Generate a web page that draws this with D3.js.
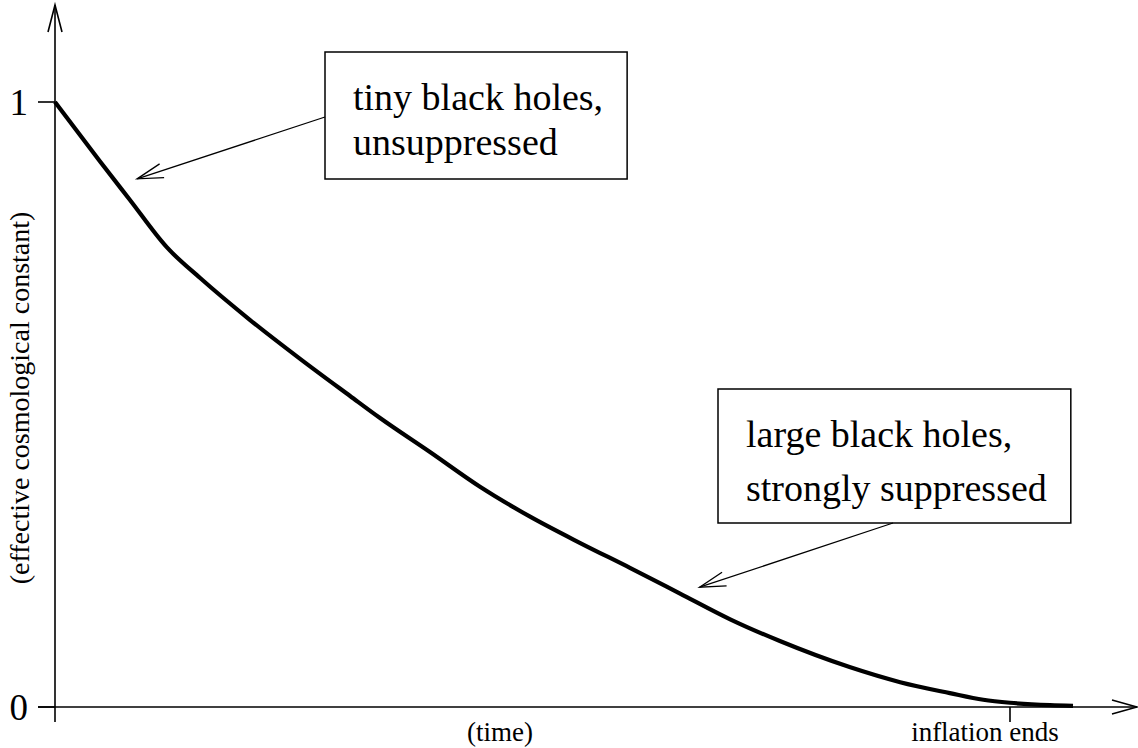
<!DOCTYPE html>
<meta charset="utf-8">
<style>

body {
  margin: 0;
  background: #fff;
}

text, tspan {
  font-family: "Liberation Serif", "Times New Roman", Times, "DejaVu Serif", serif;
  fill: #000;
}

.axis { stroke: #000; stroke-width: 1.6px; fill: none; }
.curve { stroke: #000; stroke-width: 4.2px; fill: none; }
.note rect { stroke: #000; stroke-width: 1.5px; fill: #fff; }
.pointer { stroke: #000; stroke-width: 1.3px; fill: none; }

</style>
<body>
<script src="https://d3js.org/d3.v7.min.js"></script>
<script>

// curve: time (0 = start, 1 = inflation ends) vs. effective cosmological constant
var time  = [0, 0.047, 0.0785, 0.117, 0.152, 0.204, 0.257, 0.309, 0.340, 0.393, 0.445, 0.497,
             0.550, 0.602, 0.654, 0.707, 0.759, 0.832, 0.885, 0.937, 0.972, 1.0, 1.042, 1.066];
var lambda = [1, 0.902, 0.838, 0.760, 0.709, 0.640, 0.575, 0.514, 0.478, 0.421, 0.364, 0.315,
              0.271, 0.230, 0.188, 0.145, 0.109, 0.066, 0.041, 0.023, 0.012, 0.007, 0.003, 0.002];

var yTicks = [0, 1];
var xTicks = [1];
var xTickLabels = ["inflation ends"];

var notes = [
  {lines: ["tiny black holes,", "unsuppressed"], t: 0.086, v: 0.873},
  {lines: ["large black holes,", "strongly suppressed"], t: 0.675, v: 0.198}
];

var width = 1138,
    height = 748;
var serif = "'Liberation Serif', 'Times New Roman', Times, 'DejaVu Serif', serif";

var x = d3.scaleLinear().domain([0, 1]).range([55, 1010]);
var y = d3.scaleLinear().domain([0, 1]).range([707, 102]);

var svg = d3.select("body").append("svg")
    .attr("width", width)
    .attr("height", height)
    .attr("font-family", serif);

// axes with open arrow heads
svg.append("path")
    .attr("class", "axis")
    .attr("d", "M" + x(0) + "," + 722 + "V5");
svg.append("path")
    .attr("class", "axis")
    .attr("d", "M" + (x(0) - 7) + ",32L" + x(0) + ",5L" + (x(0) + 7) + ",32");
svg.append("path")
    .attr("class", "axis")
    .attr("d", "M38," + y(0) + "H1137");
svg.append("path")
    .attr("class", "axis")
    .attr("d", "M1112," + (y(0) - 7) + "L1137," + y(0) + "L1112," + (y(0) + 7));

// y ticks
svg.selectAll(".ytick")
    .data(yTicks)
  .enter().append("line")
    .attr("class", "axis ytick")
    .attr("x1", 38)
    .attr("x2", x(0))
    .attr("y1", function(d) { return y(d); })
    .attr("y2", function(d) { return y(d); });

svg.selectAll(".ylabel")
    .data(yTicks)
  .enter().append("text")
    .attr("class", "ylabel")
    .attr("x", 28)
    .attr("y", function(d) { return y(d); })
    .attr("dy", "0.34em")
    .style("text-anchor", "end")
    .style("font-size", "37px")
    .text(function(d) { return d; });

// x ticks
svg.selectAll(".xtick")
    .data(xTicks)
  .enter().append("line")
    .attr("class", "axis xtick")
    .attr("x1", function(d) { return x(d); })
    .attr("x2", function(d) { return x(d); })
    .attr("y1", y(0))
    .attr("y2", 722);

svg.selectAll(".xlabel")
    .data(xTicks)
  .enter().append("text")
    .attr("class", "xlabel")
    .attr("x", function(d) { return x(d) - 25; })
    .attr("y", 741)
    .style("text-anchor", "middle")
    .style("font-size", "27px")
    .text(function(d, i) { return xTickLabels[i]; });

// axis titles
svg.append("text")
    .attr("x", 500)
    .attr("y", 741)
    .style("text-anchor", "middle")
    .style("font-size", "27px")
    .text("(time)");

svg.append("text")
    .attr("transform", "translate(29,398)rotate(-90)")
    .style("text-anchor", "middle")
    .style("font-size", "28px")
    .text("(effective cosmological constant)");

// the curve
var line = d3.line()
    .x(function(d) { return x(d[0]); })
    .y(function(d) { return y(d[1]); })
    .curve(d3.curveMonotoneX);

svg.append("path")
    .datum(d3.zip(time, lambda))
    .attr("class", "curve")
    .attr("d", line);

// annotation boxes
var boxes = [
  {x: 325, y: 52, h: 127, lineGap: 45, from: [325, 117]},
  {x: 718, y: 389, h: 134, lineGap: 54, from: [893, 523]}
];

notes.forEach(function(n, i) {
  var b = boxes[i];
  var g = svg.append("g").attr("class", "note");
  var rect = g.append("rect");
  var text = g.append("text")
      .style("font-size", "38px");
  text.selectAll("tspan")
      .data(n.lines)
    .enter().append("tspan")
      .attr("x", b.x + 28)
      .attr("y", function(d, j) { return b.y + 58 + j * b.lineGap; })
      .text(function(d) { return d; });
  var bb = text.node().getBBox();
  rect.attr("x", b.x)
      .attr("y", b.y)
      .attr("width", bb.x + bb.width + 24 - b.x)
      .attr("height", b.h);

  // pointer arrow to the curve
  var tx = x(n.t), ty = y(n.v);
  var ang = Math.atan2(b.from[1] - ty, b.from[0] - tx);
  var len = 27, spread = 0.27;
  svg.append("path")
      .attr("class", "pointer")
      .attr("d", "M" + b.from[0] + "," + b.from[1] + "L" + tx + "," + ty);
  svg.append("path")
      .attr("class", "pointer")
      .attr("d", "M" + (tx + len * Math.cos(ang - spread)) + "," + (ty + len * Math.sin(ang - spread)) +
                 "L" + tx + "," + ty +
                 "L" + (tx + len * Math.cos(ang + spread)) + "," + (ty + len * Math.sin(ang + spread)));
});

</script>
